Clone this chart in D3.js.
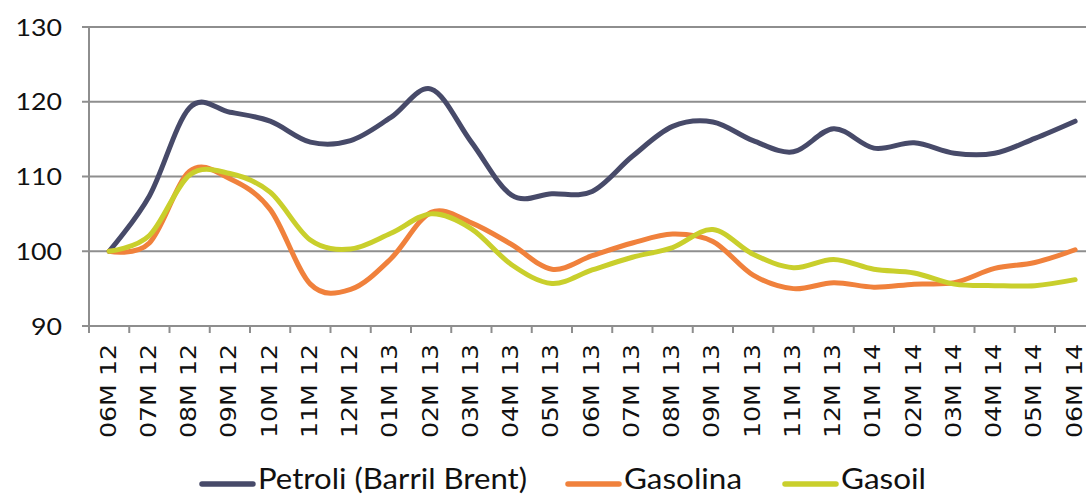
<!DOCTYPE html>
<html>
<head>
<meta charset="utf-8">
<script src="https://cdn.jsdelivr.net/npm/d3@7"></script>
<style>
  body { margin: 0; background: #fff; }
  svg { display: block; }
</style>
</head>
<body>
<script>
// months shown on the x axis
var months = ["06M 12", "07M 12", "08M 12", "09M 12", "10M 12", "11M 12", "12M 12",
    "01M 13", "02M 13", "03M 13", "04M 13", "05M 13", "06M 13", "07M 13", "08M 13",
    "09M 13", "10M 13", "11M 13", "12M 13", "01M 14", "02M 14", "03M 14", "04M 14",
    "05M 14", "06M 14"];

var petroli = [100, 107.4, 119.2, 118.6, 117.4, 114.6, 114.8, 117.9, 121.7, 114.6, 107.5, 107.7,
    108.0, 112.7, 116.7, 117.3, 114.8, 113.3, 116.4, 113.8, 114.5, 113.1, 113.1, 115.1, 117.4];
var gasolina = [100, 101.1, 110.7, 109.7, 105.6, 95.6, 94.9, 99.0, 105.2, 103.8, 100.9, 97.6,
    99.4, 101.1, 102.3, 101.3, 96.8, 95.0, 95.8, 95.2, 95.6, 95.8, 97.7, 98.5, 100.2];
var gasoil = [100, 102.1, 110.2, 110.4, 107.9, 101.5, 100.3, 102.4, 105.0, 103.0, 98.2, 95.7,
    97.5, 99.2, 100.5, 102.9, 99.6, 97.8, 98.9, 97.6, 97.1, 95.6, 95.4, 95.4, 96.2];

var yTicks = [90, 100, 110, 120, 130];

var series = [
    {name: "Petroli (Barril Brent)", values: petroli, color: "#474a69"},
    {name: "Gasolina", values: gasolina, color: "#f0813c"},
    {name: "Gasoil", values: gasoil, color: "#c9cf2c"}
];

var config = {
    width: 1086,
    height: 494,
    left: 89,
    top: 27,
    bottom: 326,
    step: 40.25
};

var svg = d3.select("body").append("svg")
    .attr("width", config.width)
    .attr("height", config.height);

var x = d3.scalePoint()
    .domain(months)
    .range([config.left + config.step / 2, config.left + config.step * (months.length - 0.5)]);

var y = d3.scaleLinear()
    .domain([90, 130])
    .range([config.bottom, config.top]);

// gridlines
svg.append("g")
    .selectAll("line")
    .data(yTicks)
    .enter()
    .append("line")
        .attr("x1", config.left - 7)
        .attr("x2", config.width)
        .attr("y1", function(d) { return y(d); })
        .attr("y2", function(d) { return y(d); })
        .attr("stroke", "#8e8e8e")
        .attr("stroke-width", 2);

// y axis line
svg.append("line")
    .attr("x1", config.left).attr("x2", config.left)
    .attr("y1", config.top).attr("y2", config.bottom + 7)
    .attr("stroke", "#8e8e8e")
    .attr("stroke-width", 2);

// y labels
svg.append("g")
    .selectAll("text")
    .data(yTicks)
    .enter()
    .append("text")
        .attr("x", 62)
        .attr("y", function(d) { return y(d); })
        .attr("dy", "0.36em")
        .attr("text-anchor", "end")
        .attr("font-family", "Lato, sans-serif")
        .attr("font-size", 24)
        .attr("textLength", function(d) { return String(d).length * 15.5; })
        .attr("lengthAdjust", "spacingAndGlyphs")
        .attr("fill", "#111")
        .text(function(d) { return d; });

// x ticks at category boundaries
svg.append("g")
    .selectAll("line")
    .data(d3.range(months.length + 1))
    .enter()
    .append("line")
        .attr("x1", function(i) { return config.left + i * config.step; })
        .attr("x2", function(i) { return config.left + i * config.step; })
        .attr("y1", config.bottom)
        .attr("y2", config.bottom + 7)
        .attr("stroke", "#8e8e8e")
        .attr("stroke-width", 2);

// x labels, rotated
svg.append("g")
    .selectAll("text")
    .data(months)
    .enter()
    .append("text")
        .attr("transform", function(d) { return "translate(" + (x(d) + 6.5) + "," + 438 + ") rotate(-90)"; })
        .attr("font-family", "DejaVu Sans, sans-serif")
        .attr("font-size", 21)
        .attr("textLength", 94)
        .attr("lengthAdjust", "spacingAndGlyphs")
        .attr("fill", "#111")
        .text(function(d) { return d; });

var line = d3.line()
    .x(function(d, i) { return x(months[i]); })
    .y(function(d) { return y(d); })
    .curve(d3.curveCardinal.tension(0));

svg.append("g")
    .selectAll("path")
    .data(series)
    .enter()
    .append("path")
        .attr("d", function(d) { return line(d.values); })
        .attr("fill", "none")
        .attr("stroke", function(d) { return d.color; })
        .attr("stroke-width", 5)
        .attr("stroke-linecap", "round")
        .attr("stroke-linejoin", "round");

// legend
var legendX = [200, 566, 783];
var legendW = [269, 118, 85];
var legend = svg.append("g")
    .selectAll("g")
    .data(series)
    .enter()
    .append("g")
        .attr("transform", function(d, i) { return "translate(" + legendX[i] + ",484)"; });

legend.append("line")
    .attr("x1", 2).attr("x2", 53)
    .attr("stroke", function(d) { return d.color; })
    .attr("stroke-width", 5.5)
    .attr("stroke-linecap", "round");

legend.append("text")
    .attr("x", 58)
    .attr("y", 5)
    .attr("font-family", "Lato, sans-serif")
    .attr("font-size", 28)
    .attr("textLength", function(d, i) { return legendW[i]; })
    .attr("lengthAdjust", "spacingAndGlyphs")
    .attr("fill", "#111")
    .text(function(d) { return d.name; });
</script>
</body>
</html>
